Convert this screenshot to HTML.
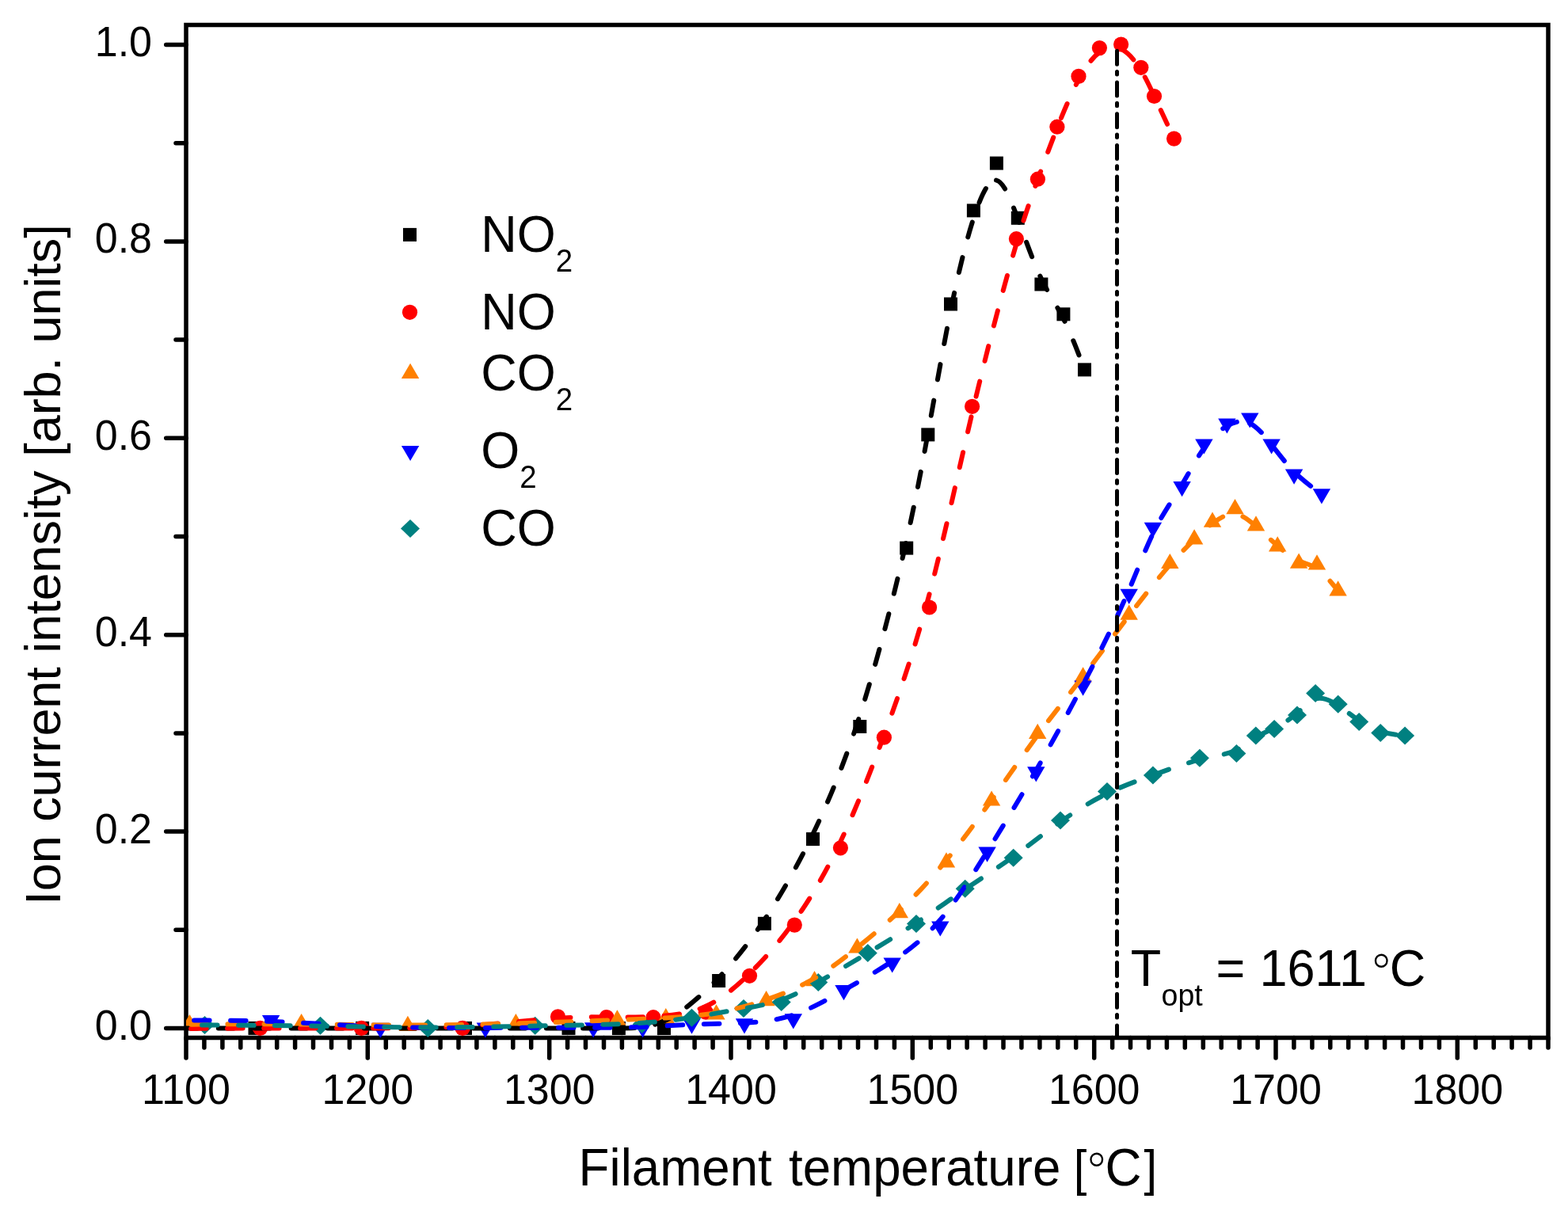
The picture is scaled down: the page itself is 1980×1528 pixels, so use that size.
<!DOCTYPE html>
<html><head><meta charset="utf-8"><title>Ion current intensity vs filament temperature</title>
<style>
html,body{margin:0;padding:0;background:#fff;}
body{width:1980px;height:1528px;overflow:hidden;}
svg{display:block;}
text{font-family:"Liberation Sans",Arial,sans-serif;fill:#000;}
.deg{font-family:"DejaVu Sans",sans-serif;font-weight:200;font-size:63px;}
</style></head><body>
<svg width="1980" height="1528" viewBox="0 0 1980 1528">
<rect width="1980" height="1528" fill="#fff"/>
<defs><clipPath id="pa"><rect x="235" y="31.5" width="1720" height="1279"/></clipPath></defs>

<rect x="235" y="31.5" width="1720" height="1279" fill="none" stroke="#000" stroke-width="5.5"/>
<g clip-path="url(#pa)">
<g><rect x="313.5" y="1289.9" width="17" height="17" fill="#000"/><rect x="449.1" y="1289.9" width="17" height="17" fill="#000"/><rect x="579" y="1289.9" width="17" height="17" fill="#000"/><rect x="709.5" y="1289.9" width="17" height="17" fill="#000"/><rect x="772.9" y="1290" width="17" height="17" fill="#000"/><rect x="830" y="1290" width="17" height="17" fill="#000"/><rect x="899.1" y="1230" width="17" height="17" fill="#000"/><rect x="956.9" y="1157.8" width="17" height="17" fill="#000"/><rect x="1018" y="1051.1" width="17" height="17" fill="#000"/><rect x="1077.3" y="909" width="17" height="17" fill="#000"/><rect x="1136.2" y="683.6" width="17" height="17" fill="#000"/><rect x="1163.3" y="540.4" width="17" height="17" fill="#000"/><rect x="1192" y="375.5" width="17" height="17" fill="#000"/><rect x="1220.9" y="257.4" width="17" height="17" fill="#000"/><rect x="1249.9" y="197.6" width="17" height="17" fill="#000"/><rect x="1276.8" y="266.8" width="17" height="17" fill="#000"/><rect x="1306.4" y="350.5" width="17" height="17" fill="#000"/><rect x="1334.4" y="388.3" width="17" height="17" fill="#000"/><rect x="1361" y="458.4" width="17" height="17" fill="#000"/></g>
<g><circle cx="328.5" cy="1298.4" r="9.6" fill="#ff0000"/><circle cx="456.4" cy="1298.4" r="9.6" fill="#ff0000"/><circle cx="584.1" cy="1298.4" r="9.6" fill="#ff0000"/><circle cx="704.5" cy="1283.9" r="9.6" fill="#ff0000"/><circle cx="766" cy="1284.5" r="9.6" fill="#ff0000"/><circle cx="825" cy="1284.7" r="9.6" fill="#ff0000"/><circle cx="891.4" cy="1278.2" r="9.6" fill="#ff0000"/><circle cx="946.5" cy="1232.3" r="9.6" fill="#ff0000"/><circle cx="1003.3" cy="1168.1" r="9.6" fill="#ff0000"/><circle cx="1061.4" cy="1070.8" r="9.6" fill="#ff0000"/><circle cx="1116.4" cy="931.2" r="9.6" fill="#ff0000"/><circle cx="1173.6" cy="767" r="9.6" fill="#ff0000"/><circle cx="1227.6" cy="513.3" r="9.6" fill="#ff0000"/><circle cx="1283.4" cy="301.7" r="9.6" fill="#ff0000"/><circle cx="1310.4" cy="226.2" r="9.6" fill="#ff0000"/><circle cx="1334.9" cy="160.2" r="9.6" fill="#ff0000"/><circle cx="1362" cy="96.4" r="9.6" fill="#ff0000"/><circle cx="1388.4" cy="60.6" r="9.6" fill="#ff0000"/><circle cx="1415.6" cy="56" r="9.6" fill="#ff0000"/><circle cx="1440.8" cy="85.3" r="9.6" fill="#ff0000"/><circle cx="1457.5" cy="121.5" r="9.6" fill="#ff0000"/><circle cx="1482.5" cy="175.1" r="9.6" fill="#ff0000"/></g>
<g><polygon points="239.5,1280.9 250.7,1300.1 228.3,1300.1" fill="#ff8000"/><polygon points="380.6,1279.9 391.8,1299.1 369.4,1299.1" fill="#ff8000"/><polygon points="514.9,1282.8 526.1,1302 503.7,1302" fill="#ff8000"/><polygon points="651.4,1280 662.6,1299.2 640.2,1299.2" fill="#ff8000"/><polygon points="779.4,1275.2 790.6,1294.4 768.2,1294.4" fill="#ff8000"/><polygon points="840.8,1273 852,1292.2 829.6,1292.2" fill="#ff8000"/><polygon points="904.5,1268.2 915.7,1287.4 893.3,1287.4" fill="#ff8000"/><polygon points="967.6,1251.1 978.8,1270.3 956.4,1270.3" fill="#ff8000"/><polygon points="1028.5,1226 1039.7,1245.2 1017.3,1245.2" fill="#ff8000"/><polygon points="1082.4,1184.4 1093.6,1203.6 1071.2,1203.6" fill="#ff8000"/><polygon points="1135.8,1140 1147,1159.2 1124.6,1159.2" fill="#ff8000"/><polygon points="1195,1076.2 1206.2,1095.4 1183.8,1095.4" fill="#ff8000"/><polygon points="1252.1,998.4 1263.3,1017.6 1240.9,1017.6" fill="#ff8000"/><polygon points="1310.2,913.7 1321.4,932.9 1299,932.9" fill="#ff8000"/><polygon points="1367.6,842.3 1378.8,861.5 1356.4,861.5" fill="#ff8000"/><polygon points="1425.7,763.6 1436.9,782.8 1414.5,782.8" fill="#ff8000"/><polygon points="1477.3,698.9 1488.5,718.1 1466.1,718.1" fill="#ff8000"/><polygon points="1508.1,668.3 1519.3,687.5 1496.9,687.5" fill="#ff8000"/><polygon points="1531,646.6 1542.2,665.8 1519.8,665.8" fill="#ff8000"/><polygon points="1559.5,630.1 1570.7,649.3 1548.3,649.3" fill="#ff8000"/><polygon points="1586,651.2 1597.2,670.4 1574.8,670.4" fill="#ff8000"/><polygon points="1613.2,677.2 1624.4,696.4 1602,696.4" fill="#ff8000"/><polygon points="1640.1,698.5 1651.3,717.7 1628.9,717.7" fill="#ff8000"/><polygon points="1663,700.3 1674.2,719.5 1651.8,719.5" fill="#ff8000"/><polygon points="1689.6,733.3 1700.8,752.5 1678.4,752.5" fill="#ff8000"/></g>
<g><polygon points="330.9,1282 353.3,1282 342.1,1301.2" fill="#0000ff"/><polygon points="469.2,1291.8 491.6,1291.8 480.4,1311" fill="#0000ff"/><polygon points="601.7,1291.5 624.1,1291.5 612.9,1310.7" fill="#0000ff"/><polygon points="738,1291.3 760.4,1291.3 749.2,1310.5" fill="#0000ff"/><polygon points="800.4,1291.3 822.8,1291.3 811.6,1310.5" fill="#0000ff"/><polygon points="862.3,1286.6 884.7,1286.6 873.5,1305.8" fill="#0000ff"/><polygon points="928.8,1286.2 951.2,1286.2 940,1305.4" fill="#0000ff"/><polygon points="990.6,1280.2 1013,1280.2 1001.8,1299.4" fill="#0000ff"/><polygon points="1054.3,1244 1076.7,1244 1065.5,1263.2" fill="#0000ff"/><polygon points="1115.5,1209.4 1137.9,1209.4 1126.7,1228.6" fill="#0000ff"/><polygon points="1176.1,1163.4 1198.5,1163.4 1187.3,1182.6" fill="#0000ff"/><polygon points="1235.4,1069.6 1257.8,1069.6 1246.6,1088.8" fill="#0000ff"/><polygon points="1297.1,968.2 1319.5,968.2 1308.3,987.4" fill="#0000ff"/><polygon points="1356.4,859.6 1378.8,859.6 1367.6,878.8" fill="#0000ff"/><polygon points="1414.5,743.8 1436.9,743.8 1425.7,763" fill="#0000ff"/><polygon points="1444.7,659.8 1467.1,659.8 1455.9,679" fill="#0000ff"/><polygon points="1481.4,608.1 1503.8,608.1 1492.6,627.3" fill="#0000ff"/><polygon points="1509.2,554.4 1531.6,554.4 1520.4,573.6" fill="#0000ff"/><polygon points="1538.2,528.4 1560.6,528.4 1549.4,547.6" fill="#0000ff"/><polygon points="1567.1,521.4 1589.5,521.4 1578.3,540.6" fill="#0000ff"/><polygon points="1594.4,554.4 1616.8,554.4 1605.6,573.6" fill="#0000ff"/><polygon points="1622.9,592.6 1645.3,592.6 1634.1,611.8" fill="#0000ff"/><polygon points="1657.7,617.3 1680.1,617.3 1668.9,636.5" fill="#0000ff"/></g>
<g><polygon points="258.5,1283 270.5,1294.5 258.5,1306 246.5,1294.5" fill="#008080"/><polygon points="404.5,1283.8 416.5,1295.3 404.5,1306.8 392.5,1295.3" fill="#008080"/><polygon points="540.3,1287 552.3,1298.5 540.3,1310 528.3,1298.5" fill="#008080"/><polygon points="675.7,1283.8 687.7,1295.3 675.7,1306.8 663.7,1295.3" fill="#008080"/><polygon points="810.6,1281.9 822.6,1293.4 810.6,1304.9 798.6,1293.4" fill="#008080"/><polygon points="873.5,1273.8 885.5,1285.3 873.5,1296.8 861.5,1285.3" fill="#008080"/><polygon points="939,1261.9 951,1273.4 939,1284.9 927,1273.4" fill="#008080"/><polygon points="986.7,1254 998.7,1265.5 986.7,1277 974.7,1265.5" fill="#008080"/><polygon points="1033.3,1229.1 1045.3,1240.6 1033.3,1252.1 1021.3,1240.6" fill="#008080"/><polygon points="1095.8,1192.1 1107.8,1203.6 1095.8,1215.1 1083.8,1203.6" fill="#008080"/><polygon points="1157,1154.9 1169,1166.4 1157,1177.9 1145,1166.4" fill="#008080"/><polygon points="1218.7,1110.8 1230.7,1122.3 1218.7,1133.8 1206.7,1122.3" fill="#008080"/><polygon points="1279.7,1071.7 1291.7,1083.2 1279.7,1094.7 1267.7,1083.2" fill="#008080"/><polygon points="1339,1024.5 1351,1036 1339,1047.5 1327,1036" fill="#008080"/><polygon points="1398,988.1 1410,999.6 1398,1011.1 1386,999.6" fill="#008080"/><polygon points="1455.9,967.4 1467.9,978.9 1455.9,990.4 1443.9,978.9" fill="#008080"/><polygon points="1514.9,945.8 1526.9,957.3 1514.9,968.8 1502.9,957.3" fill="#008080"/><polygon points="1561.4,939.9 1573.4,951.4 1561.4,962.9 1549.4,951.4" fill="#008080"/><polygon points="1585.8,917.6 1597.8,929.1 1585.8,940.6 1573.8,929.1" fill="#008080"/><polygon points="1609.1,909.1 1621.1,920.6 1609.1,932.1 1597.1,920.6" fill="#008080"/><polygon points="1638,891.5 1650,903 1638,914.5 1626,903" fill="#008080"/><polygon points="1661.1,863.9 1673.1,875.4 1661.1,886.9 1649.1,875.4" fill="#008080"/><polygon points="1689.7,877.7 1701.7,889.2 1689.7,900.7 1677.7,889.2" fill="#008080"/><polygon points="1716.2,900 1728.2,911.5 1716.2,923 1704.2,911.5" fill="#008080"/><polygon points="1743.2,914 1755.2,925.5 1743.2,937 1731.2,925.5" fill="#008080"/><polygon points="1774.1,917.6 1786.1,929.1 1774.1,940.6 1762.1,929.1" fill="#008080"/></g>
<path d="M225,1298.5C225,1298.5 225,1298.5 241.2,1298.5C257.3,1298.5 289.7,1298.4 328.4,1298.4C367.2,1298.4 412.4,1298.4 456.7,1298.4C500.9,1298.4 544.2,1298.4 587.6,1298.4C631,1298.4 674.5,1298.4 706.8,1298.4C739.1,1298.4 760.3,1298.5 780.4,1298.5C800.4,1298.5 819.5,1298.5 840.5,1288.5C861.5,1278.5 884.6,1258.5 905.7,1236.5" fill="none" stroke="#000" stroke-width="6.0" stroke-dasharray="19.5 26.5" stroke-dashoffset="41.2" stroke-linecap="round" stroke-linejoin="round"/>
<path d="M905.7,1236.5C926.9,1214.4 946.1,1190.4 965.9,1160.5C985.8,1130.7 1006.1,1095.2 1026.2,1053.7C1046.3,1012.2 1066,964.9 1085.7,903.6C1105.4,842.4 1125.1,767.2 1139.4,705.8C1153.7,644.4 1162.8,596.6 1172.1,545.3C1181.4,493.9 1190.9,439 1200.5,391.8C1210.1,344.6 1219.8,305.3 1229.4,275.6C1239.1,246 1248.7,226 1258,227.6" fill="none" stroke="#000" stroke-width="6.0" stroke-dasharray="19.5 26.5" stroke-dashoffset="10.8" stroke-linecap="round" stroke-linejoin="round"/>
<path d="M1258,227.6C1267.4,229.2 1276.3,252.2 1285.8,277.7C1295.2,303.2 1305,331.1 1314.6,351.3C1324.2,371.6 1333.6,384.2 1342.7,402.2C1351.8,420.2 1360.6,443.5 1365.1,455.2C1369.5,466.9 1369.5,466.9 1369.5,466.9" fill="none" stroke="#000" stroke-width="6.0" stroke-dasharray="19.5 26.5" stroke-dashoffset="3.5" stroke-linecap="round" stroke-linejoin="round"/>
<path d="M225,1299C225,1299 225,1299 242.2,1298.9C259.5,1298.8 294,1298.6 332.6,1298.5C371.1,1298.4 413.8,1298.4 456.4,1298.4C499,1298.4 541.5,1298.4 582.9,1296C624.2,1293.6 664.4,1288.7 694.7,1286.4C725,1284.1 745.5,1284.3 765.6,1284.4C785.7,1284.6 805.3,1284.6 826.2,1283.6C847.1,1282.5 869.3,1280.4 889.5,1271.6C909.8,1262.9 928.1,1247.6 946.8,1229.2" fill="none" stroke="#ff0000" stroke-width="6.0" stroke-dasharray="19.5 26.5" stroke-dashoffset="29.8" stroke-linecap="round" stroke-linejoin="round"/>
<path d="M946.8,1229.2C965.4,1210.9 984.4,1189.5 1003.5,1162.6C1022.7,1135.7 1042,1103.2 1060.9,1063.7C1079.7,1024.3 1098.1,977.7 1116.8,927.1C1135.5,876.5 1154.5,821.7 1173.1,752.1C1191.6,682.4 1209.6,597.9 1227.9,520.3C1246.2,442.8 1264.8,372.2 1278.6,324.4C1292.4,276.5 1301.4,251.4 1310,227.8C1318.6,204.2 1326.7,182.2 1335.3,160.6C1343.9,138.9 1353,117.7 1361.9,101.1" fill="none" stroke="#ff0000" stroke-width="6.0" stroke-dasharray="19.5 26.5" stroke-dashoffset="36" stroke-linecap="round" stroke-linejoin="round"/>
<path d="M1361.9,101.1C1370.8,84.5 1379.6,72.5 1388.5,65.8C1397.5,59.1 1406.5,57.5 1415.3,61.7C1424,65.8 1432.4,75.5 1439.4,86.5C1446.4,97.4 1451.9,109.4 1458.9,124.4C1465.8,139.4 1474.2,157.2 1478.3,166.2C1482.5,175.1 1482.5,175.1 1482.5,175.1" fill="none" stroke="#ff0000" stroke-width="6.0" stroke-dasharray="19.5 26.5" stroke-dashoffset="17.2" stroke-linecap="round" stroke-linejoin="round"/>
<path d="M225,1293.7C225,1293.7 225,1293.7 227.4,1293.7C229.8,1293.7 234.7,1293.7 260.6,1293.5C286.5,1293.4 333.6,1293 379.5,1293.4C425.4,1293.7 470.1,1294.6 515.3,1294.6C560.4,1294.7 605.9,1293.7 650,1292.5C694.1,1291.2 736.7,1289.6 768.3,1288.4C799.9,1287.3 820.3,1286.5 841.2,1285.4C862,1284.2 883.3,1282.6 904.4,1279C925.5,1275.3 946.6,1269.6 967.2,1262.6" fill="none" stroke="#ff8000" stroke-width="6.0" stroke-dasharray="19.5 26.5" stroke-dashoffset="29.4" stroke-linecap="round" stroke-linejoin="round"/>
<path d="M967.2,1262.6C987.9,1255.5 1008.2,1247.2 1027.3,1236C1046.5,1224.9 1064.4,1211.1 1082.3,1196.7C1100.2,1182.4 1118,1167.6 1136.8,1149.6C1155.5,1131.5 1175.3,1110.3 1194.6,1086.7C1214,1063.1 1233.1,1037.1 1252.3,1010C1271.5,983 1290.8,954.7 1310.1,928.7C1329.3,902.7 1348.5,878.9 1367.7,853.9C1387,828.9 1406.3,802.6 1424.6,778.7" fill="none" stroke="#ff8000" stroke-width="6.0" stroke-dasharray="19.5 26.5" stroke-dashoffset="42.3" stroke-linecap="round" stroke-linejoin="round"/>
<path d="M1424.6,778.7C1442.9,754.8 1460.1,733.3 1473.8,717.4C1487.6,701.5 1497.8,691.3 1506.8,682.6C1515.7,673.9 1523.4,666.6 1531.9,660.3C1540.5,653.9 1550,648.4 1559.2,649.2C1568.3,649.9 1577.2,657 1586.1,664.8C1595.1,672.7 1604.1,681.3 1613.1,689.2C1622.2,697.1 1631.1,704.2 1639.4,708C1647.7,711.9 1655.4,712.5 1663.6,718.3C1671.9,724.1 1680.7,735.1 1685.2,740.6C1689.6,746.1 1689.6,746.1 1689.6,746.1" fill="none" stroke="#ff8000" stroke-width="6.0" stroke-dasharray="19.5 26.5" stroke-dashoffset="28.9" stroke-linecap="round" stroke-linejoin="round"/>
<path d="M225,1288.4C225,1288.4 225,1288.4 244.5,1288.4C264,1288.4 303.1,1288.4 345.6,1290C388.2,1291.7 434.3,1294.9 479.4,1296.5C524.6,1298.1 568.7,1298 613.5,1297.9C658.3,1297.8 703.8,1297.8 736.9,1297.7C770,1297.7 790.8,1297.7 811.5,1296.9C832.2,1296.1 852.9,1294.6 874.3,1293.7C895.7,1292.9 917.8,1292.7 939.2,1291.7C960.6,1290.6 981.2,1288.6 1002.1,1281.6C1023,1274.5 1044.3,1262.5 1065.1,1250.7" fill="none" stroke="#0000ff" stroke-width="6.0" stroke-dasharray="19.5 26.5" stroke-dashoffset="25.8" stroke-linecap="round" stroke-linejoin="round"/>
<path d="M1065.1,1250.7C1085.9,1238.9 1106.3,1227.3 1126.6,1213.9C1146.9,1200.5 1167.1,1185.1 1187.1,1161.8C1207.1,1138.5 1226.8,1107.3 1247,1074.7C1267.2,1042.2 1287.7,1008.4 1307.9,973.4C1328.1,938.4 1347.8,902.2 1367.4,864.8C1387,827.4 1406.3,788.8 1421,755.5" fill="none" stroke="#0000ff" stroke-width="6.0" stroke-dasharray="19.5 26.5" stroke-dashoffset="0.1" stroke-linecap="round" stroke-linejoin="round"/>
<path d="M1421,755.5C1435.8,722.2 1445.8,694.2 1457,671.6C1468.1,649 1480.4,631.7 1491.1,614.2C1501.9,596.6 1511.1,578.7 1520.6,565.4C1530.1,552.1 1539.7,543.5 1549.4,538C1559,532.5 1568.7,530.1 1578,534.5" fill="none" stroke="#0000ff" stroke-width="6.0" stroke-dasharray="19.5 26.5" stroke-dashoffset="26.9" stroke-linecap="round" stroke-linejoin="round"/>
<path d="M1578,534.5C1587.4,538.8 1596.5,549.8 1605.8,561.7C1615.1,573.5 1624.6,586.3 1635.1,596.8C1645.7,607.2 1657.3,615.5 1663.1,619.6C1668.9,623.7 1668.9,623.7 1668.9,623.7" fill="none" stroke="#0000ff" stroke-width="6.0" stroke-dasharray="19.5 26.5" stroke-dashoffset="0.5" stroke-linecap="round" stroke-linejoin="round"/>
<path d="M225,1294.5C225,1294.5 225,1294.5 230.6,1294.5C236.2,1294.5 247.3,1294.5 277.2,1294.6C307.2,1294.8 355.8,1295 402.8,1295.7C449.8,1296.4 495,1297.4 540.2,1297.4C585.4,1297.4 630.6,1296.4 675.6,1295.5C720.7,1294.7 765.6,1294 798.6,1292.4C831.6,1290.7 852.5,1288 873.9,1284.7C895.3,1281.3 917.2,1277.4 936,1274.1C954.9,1270.8 970.8,1268.1 986.5,1262.7" fill="none" stroke="#008080" stroke-width="6.0" stroke-dasharray="19.5 26.5" stroke-dashoffset="15.8" stroke-linecap="round" stroke-linejoin="round"/>
<path d="M986.5,1262.7C1002.2,1257.2 1017.8,1248.9 1036,1238.6C1054.1,1228.3 1075,1215.9 1095.6,1203.6C1116.2,1191.2 1136.6,1178.8 1157.1,1165.3C1177.6,1151.7 1198.1,1137 1218.6,1123.1C1239,1109.3 1259.4,1096.2 1279.4,1081.9C1299.5,1067.5 1319.2,1051.7 1339,1037.8C1358.7,1023.9 1378.3,1011.7 1397.8,1002.2" fill="none" stroke="#008080" stroke-width="6.0" stroke-dasharray="19.5 26.5" stroke-dashoffset="45.8" stroke-linecap="round" stroke-linejoin="round"/>
<path d="M1397.8,1002.2C1417.3,992.7 1436.6,985.8 1456.1,978.8C1475.6,971.7 1495.2,964.5 1512.8,959.9C1530.4,955.3 1545.9,953.4 1557.7,948.7C1569.5,944 1577.7,936.5 1585.6,931.4C1593.6,926.3 1601.3,923.4 1610,919.1C1618.7,914.7 1628.4,908.9 1637,901.3C1645.7,893.8 1653.4,884.6 1662,882.3C1670.6,880 1680.2,884.6 1689.4,890.6C1698.5,896.6 1707.4,904.1 1716.3,910.1C1725.2,916.2 1734.2,920.8 1743.9,923.8C1753.5,926.7 1763.8,927.9 1769,928.5C1774.1,929.1 1774.1,929.1 1774.1,929.1" fill="none" stroke="#008080" stroke-width="6.0" stroke-dasharray="19.5 26.5" stroke-dashoffset="27.7" stroke-linecap="round" stroke-linejoin="round"/>
</g>
<line x1="1410.5" y1="61.5" x2="1410.5" y2="1308" stroke="#000" stroke-width="5" stroke-dasharray="17 9.3 3.5 9.9" stroke-dashoffset="36.9" stroke-linecap="round"/>
<path d="M209.7,1298.5H235M222,1174.3H235M209.7,1050.1H235M222,925.9H235M209.7,801.7H235M222,677.5H235M209.7,553.3H235M222,429.1H235M209.7,304.9H235M222,180.7H235M209.7,56.5H235M235,1310.5V1336M257.9,1310.5V1323M280.9,1310.5V1323M303.8,1310.5V1323M326.7,1310.5V1323M349.7,1310.5V1323M372.6,1310.5V1323M395.5,1310.5V1323M418.5,1310.5V1323M441.4,1310.5V1323M464.3,1310.5V1336M487.3,1310.5V1323M510.2,1310.5V1323M533.1,1310.5V1323M556.1,1310.5V1323M579,1310.5V1323M601.9,1310.5V1323M624.9,1310.5V1323M647.8,1310.5V1323M670.7,1310.5V1323M693.7,1310.5V1336M716.6,1310.5V1323M739.5,1310.5V1323M762.5,1310.5V1323M785.4,1310.5V1323M808.3,1310.5V1323M831.3,1310.5V1323M854.2,1310.5V1323M877.1,1310.5V1323M900.1,1310.5V1323M923,1310.5V1336M945.9,1310.5V1323M968.9,1310.5V1323M991.8,1310.5V1323M1014.7,1310.5V1323M1037.7,1310.5V1323M1060.6,1310.5V1323M1083.5,1310.5V1323M1106.5,1310.5V1323M1129.4,1310.5V1323M1152.3,1310.5V1336M1175.3,1310.5V1323M1198.2,1310.5V1323M1221.1,1310.5V1323M1244.1,1310.5V1323M1267,1310.5V1323M1289.9,1310.5V1323M1312.9,1310.5V1323M1335.8,1310.5V1323M1358.7,1310.5V1323M1381.7,1310.5V1336M1404.6,1310.5V1323M1427.5,1310.5V1323M1450.5,1310.5V1323M1473.4,1310.5V1323M1496.3,1310.5V1323M1519.3,1310.5V1323M1542.2,1310.5V1323M1565.1,1310.5V1323M1588.1,1310.5V1323M1611,1310.5V1336M1633.9,1310.5V1323M1656.9,1310.5V1323M1679.8,1310.5V1323M1702.7,1310.5V1323M1725.7,1310.5V1323M1748.6,1310.5V1323M1771.5,1310.5V1323M1794.5,1310.5V1323M1817.4,1310.5V1323M1840.3,1310.5V1336M1863.3,1310.5V1323M1886.2,1310.5V1323M1909.1,1310.5V1323M1932.1,1310.5V1323M1955,1310.5V1323" stroke="#000" stroke-width="5.5" stroke-linecap="round" fill="none"/>
<text transform="translate(192,1313) scale(1,1.025)" font-size="52" text-anchor="end">0.0</text>
<text transform="translate(192,1064.6) scale(1,1.025)" font-size="52" text-anchor="end">0.2</text>
<text transform="translate(192,816.2) scale(1,1.025)" font-size="52" text-anchor="end">0.4</text>
<text transform="translate(192,567.8) scale(1,1.025)" font-size="52" text-anchor="end">0.6</text>
<text transform="translate(192,319.4) scale(1,1.025)" font-size="52" text-anchor="end">0.8</text>
<text transform="translate(192,71) scale(1,1.025)" font-size="52" text-anchor="end">1.0</text>
<text transform="translate(235,1393.5) scale(1,1.025)" font-size="52" text-anchor="middle">1100</text>
<text transform="translate(464.3,1393.5) scale(1,1.025)" font-size="52" text-anchor="middle">1200</text>
<text transform="translate(693.7,1393.5) scale(1,1.025)" font-size="52" text-anchor="middle">1300</text>
<text transform="translate(923,1393.5) scale(1,1.025)" font-size="52" text-anchor="middle">1400</text>
<text transform="translate(1152.3,1393.5) scale(1,1.025)" font-size="52" text-anchor="middle">1500</text>
<text transform="translate(1381.7,1393.5) scale(1,1.025)" font-size="52" text-anchor="middle">1600</text>
<text transform="translate(1611,1393.5) scale(1,1.025)" font-size="52" text-anchor="middle">1700</text>
<text transform="translate(1840.3,1393.5) scale(1,1.025)" font-size="52" text-anchor="middle">1800</text>
<text y="1497.2" font-size="63.7" transform="translate(0,1497.2) scale(1,1.045) translate(0,-1497.2)"><tspan x="730.6">Filament </tspan><tspan x="996">temperature </tspan><tspan x="1355.7" font-size="59.8">[</tspan><tspan x="1368.9" dy="5.9" class="deg">°</tspan><tspan x="1395.6" dy="-5.9">C</tspan><tspan x="1444.5" font-size="59.8">]</tspan></text>
<text transform="translate(75.5,712) rotate(-90) scale(1,1.0)" x="-430.7" font-size="63" textLength="859.4" lengthAdjust="spacing">Ion current intensity [arb. units]</text>
<rect x="509" y="287.9" width="17" height="17" fill="#000"/>
<circle cx="517.5" cy="394.3" r="9.6" fill="#ff0000"/>
<polygon points="518.1,458.7 529.3,477.9 506.9,477.9" fill="#ff8000"/>
<polygon points="506.9,562.9 529.3,562.9 518.1,582.1" fill="#0000ff"/>
<polygon points="518,655.9 530,667.4 518,678.9 506,667.4" fill="#008080"/>
<text x="607.2" y="317.9" font-size="63" transform="translate(0,317.9) scale(1,1.035) translate(0,-317.9)">NO<tspan font-size="38.5" dy="24.2">2</tspan></text>
<text x="607.2" y="416.3" font-size="63" transform="translate(0,416.3) scale(1,1.035) translate(0,-416.3)">NO</text>
<text x="607.2" y="493" font-size="63" transform="translate(0,493) scale(1,1.035) translate(0,-493)">CO<tspan font-size="38.5" dy="24.2">2</tspan></text>
<text x="607.2" y="591" font-size="63" transform="translate(0,591) scale(1,1.035) translate(0,-591)">O<tspan font-size="38.5" dy="24.2">2</tspan></text>
<text x="607.2" y="689" font-size="63" transform="translate(0,689) scale(1,1.035) translate(0,-689)">CO</text>
<text y="1244.7" font-size="63" transform="translate(0,1244.7) scale(1,1.025) translate(0,-1244.7)"><tspan x="1427.7">T</tspan><tspan x="1466.6" dy="24.5" font-size="37.5">opt </tspan><tspan x="1535.6" dy="-24.5">= </tspan><tspan x="1590.5">1611</tspan><tspan x="1728.6" dy="6" class="deg">°</tspan><tspan x="1754.8" dy="-6">C</tspan></text>
</svg>
</body></html>
